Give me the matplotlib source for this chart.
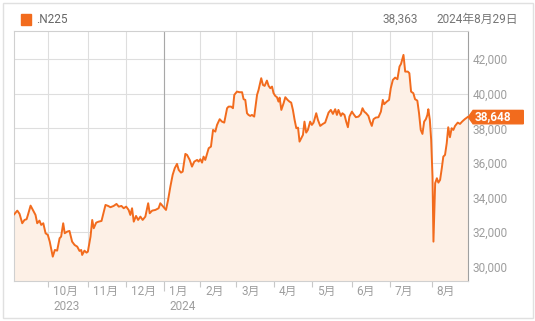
import matplotlib.pyplot as plt
from matplotlib.patches import Polygon, Rectangle
from matplotlib.transforms import ScaledTranslation

plt.rcParams['font.family'] = ['Roboto', 'Noto Sans CJK JP', 'DejaVu Sans']

# x = trading day index (0 = 2023-09-05), y = Nikkei 225 close
day = [0, 1.6, 2.8, 4.2, 5.4, 6.5, 7.2, 8.6, 10.3, 11.2, 12.1, 13.3, 14.2, 15.3, 16.5, 17.7,
       18.7, 20.3, 21.4, 22.6, 23.9, 24.7, 25.8, 26.6, 27.9, 29.1, 30.5, 31.8, 33.2, 34.4,
       35.3, 35.8, 37.0, 38.1, 38.8, 40.2, 41.1, 41.9, 43.2, 44.5, 46.0, 47.2, 48.1, 49.5,
       50.7, 52.4, 53.9, 55.1, 56.5, 57.7, 59.0, 60.3, 61.2, 62.1, 63.0, 64.2, 65.3, 66.5,
       67.7, 69.1, 70.6, 71.4, 72.7, 74.4, 76.1, 77.0, 78.5, 80.0, 81.1, 82.3, 83.5, 84.6,
       85.8, 86.7, 87.9, 88.8, 90.2, 91.1, 92.5, 93.7, 94.9, 96.4, 97.2, 98.1, 99.0, 99.8,
       100.7, 102.5, 103.7, 104.8, 106.0, 106.9, 108.3, 109.5, 110.7, 112.2, 113.0, 114.3,
       115.3, 116.0, 117.4, 118.8, 120.1, 120.9, 121.8, 122.7, 123.5, 124.4, 125.3, 126.5,
       128.0, 128.8, 130.2, 131.1, 132.0, 133.2, 134.1, 135.0, 135.9, 136.7, 137.6, 138.5,
       139.3, 139.9, 140.8, 142.0, 142.9, 144.1, 145.1, 146.0, 146.9, 147.8, 148.7, 149.6,
       150.4, 151.3, 152.2, 153.0, 153.9, 154.8, 156.0, 156.9, 157.8, 159.2, 160.1, 161.3,
       162.7, 163.9, 165.7, 166.9, 168.0, 169.2, 170.1, 170.9, 172.2, 173.0, 174.1, 175.0,
       175.9, 176.7, 178.0, 178.8, 180.1, 181.5, 182.7, 183.6, 184.5, 185.5, 186.7, 187.6,
       188.5, 189.4, 190.6, 192.0, 193.3, 194.3, 195.0, 196.4, 197.6, 198.5, 199.6, 200.8,
       202.0, 203.1, 203.9, 205.2, 206.1, 207.5, 208.3, 209.2, 210.4, 211.3, 212.5, 213.4,
       214.3, 215.2, 216.1, 217.0, 217.8, 218.3, 219.1, 219.8, 220.5, 221.0, 221.9, 222.8,
       223.6, 224.5, 225.4, 226.2, 227.1, 228.0, 228.8, 229.7, 230.6, 231.5, 232.4, 233.8,
       235.0, 236.1, 237.5, 239.0]
close = [33035, 33243, 33052, 32514, 32705, 32746, 32994, 33532, 33185, 32994, 32514, 32665,
         32416, 32514, 31936, 31838, 31451, 30584, 30971, 30931, 31647, 31740, 32514, 31936,
         32029, 32069, 31451, 31260, 31162, 30913, 30971, 30682, 30931, 30815, 30873, 31740,
         32705, 32225, 32549, 32607, 32647, 33185, 33572, 33514, 33439, 33514, 33630, 33474,
         33514, 33381, 33474, 33283, 32994, 33381, 32607, 32936, 32705, 32896, 32705, 32896,
         33670, 33092, 33243, 33283, 33381, 33670, 33474, 33283, 33861, 34630, 35306, 35693,
         35942, 35595, 35439, 35497, 36520, 36462, 36173, 35786, 36075, 36173, 36075, 36214,
         36017, 36364, 36173, 36849, 36942, 37907, 37809, 38196, 38526, 38387, 38329, 39161,
         39254, 39254, 39161, 39930, 40121, 40086, 40086, 39682, 39641, 38872, 38774, 38716,
         38774, 38676, 39930, 40219, 40895, 40508, 40450, 40757, 40450, 40317, 40410, 40028,
         39872, 39797, 39543, 39774, 39063, 39450, 39797, 39641, 39543, 39485, 39063, 38485,
         38005, 38040, 37231, 37427, 37618, 38387, 37751, 37907, 38387, 38196, 38329, 38872,
         38485, 38138, 38254, 38329, 38907, 39063, 38832, 39104, 38774, 39063, 38716, 38872,
         38774, 38387, 38063, 38676, 38965, 38832, 38641, 38676, 38832, 39161, 38965, 38872,
         38716, 38387, 38138, 38526, 38618, 38641, 38965, 39641, 39393, 39543, 39641, 40317,
         40797, 40930, 40837, 41566, 41722, 42242, 41277, 41277, 41184, 40121, 40028, 39682,
         39600, 38872, 37907, 37676, 38387, 38526, 38774, 39104, 38485, 37329, 35208, 31451,
         34826, 35115, 34861, 35017, 35693, 36364, 36462, 37138, 38063, 37485, 38005, 37907,
         38138, 38329, 38254, 38387, 38526, 38648]

month_pos = [18, 39, 59, 79, 98, 117, 137, 157, 178, 198, 220]
month_labels = ['10月', '11月', '12月', '1月', '2月', '3月', '4月', '5月', '6月', '7月', '8月']
year_labels = {18: '2023', 79: '2024'}
y_ticks = [30000, 32000, 34000, 36000, 38000, 40000, 42000]
last_price = 38648
ticker = '.N225'
prev_close = '38,363'
date_label = '2024年8月29日'

orange = '#f26b1d'
fill_c = '#fdf0e6'
grid_c = '#dedede'
label_c = '#9e9e9e'

fig = plt.figure(figsize=(5.35, 3.21), dpi=100)
ax = fig.add_axes([0.0256, 0.1237, 0.8484, 0.7785])

ax.fill_between(day, close, 29000, color=fill_c, lw=0, zorder=1)
ax.plot(day, close, color=orange, lw=1.4, zorder=3, solid_joinstyle='round')

ax.set_xlim(-0.3, 239)
ax.set_ylim(29160, 43600)

# grid + year boundary
ax.set_axisbelow(True)
ax.grid(color=grid_c, lw=0.8)
ax.axvline(79, color='#a8a8a8', lw=0.8, zorder=0.9)

ax.set_yticks(y_ticks)
ax.set_yticklabels([f'{v:,}' for v in y_ticks])
ax.yaxis.tick_right()
ax.tick_params(axis='y', length=0, pad=3.4, labelsize=8.5, labelcolor=label_c)

ax.set_xticks(month_pos)
ax.set_xticklabels([])
ax.tick_params(axis='x', length=4, width=0.8, color='#c8c8c8')
ax.xaxis.get_major_ticks()[3].tick1line.set_markersize(7)

for s in ['left', 'top', 'bottom']:
    ax.spines[s].set_color('#d0d0d0')
    ax.spines[s].set_linewidth(0.8)
ax.spines['right'].set_color('#a0a0a0')
ax.spines['right'].set_linewidth(0.8)

for p, lab in zip(month_pos, month_labels):
    ax.annotate(lab, xy=(p, 0), xycoords=('data', 'axes fraction'), xytext=(3.5, -7.3),
                textcoords='offset points', ha='left', va='center', fontsize=8.5, color=label_c)
    if p in year_labels:
        ax.annotate(year_labels[p], xy=(p, 0), xycoords=('data', 'axes fraction'),
                    xytext=(3.5, -18.5), textcoords='offset points', ha='left', va='center',
                    fontsize=8.5, color=label_c)

# price tag on the right axis
tag = [(0.007, 0), (0.055, 0.067), (0.557, 0.067), (0.557, -0.067), (0.055, -0.067)]
tag_trans = fig.dpi_scale_trans + ScaledTranslation(1, last_price, ax.get_yaxis_transform())
ax.add_patch(Polygon(tag, closed=True, transform=tag_trans, color=orange, clip_on=False, zorder=5))
ax.annotate(f'{last_price:,}', xy=(1, last_price), xycoords=('axes fraction', 'data'),
            xytext=(5.4, 0), textcoords='offset points', ha='left', va='center',
            color='white', fontsize=8.5, fontweight='bold', zorder=6, annotation_clip=False)
ax.set_xlim(-0.3, 239)
ax.set_ylim(29160, 43600)

# header row
fig.patches.append(Rectangle((20.5 / 535, 1 - 24.6 / 321), 10.2 / 535, 10.5 / 321,
                             transform=fig.transFigure, color=orange))
fig.text(35.8 / 535, 1 - 19.3 / 321, ticker, ha='left', va='center', fontsize=8.5, color='#666666')
fig.text(418 / 535, 1 - 19.3 / 321, prev_close, ha='right', va='center', fontsize=8.5, color='#757575')
fig.text(518 / 535, 1 - 19.3 / 321, date_label, ha='right', va='center', fontsize=8.5, color='#757575')

# outer frame
fig.patches.append(Rectangle((2.5 / 535, 3 / 321), 530 / 535, 315.5 / 321,
                             transform=fig.transFigure, fill=False, ec='#e0e0e0', lw=1))

fig.savefig('out.png', dpi=100)
